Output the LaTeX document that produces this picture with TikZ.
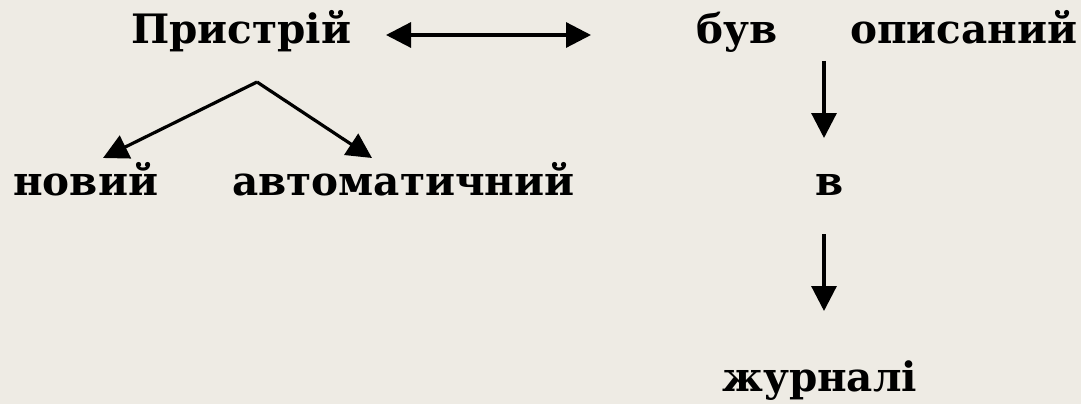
\documentclass[tikz,border=0pt]{standalone}
\usepackage{fontspec}
\setmainfont{DejaVu Serif}
\usetikzlibrary{arrows.meta}
\definecolor{bg}{HTML}{EEEBE4}
\tikzset{
  word/.style={anchor=base west,inner sep=0pt,font=\bfseries\fontsize{40.5}{40.5}\selectfont},
  arr/.style={line width=3.2pt,-{Triangle[length=25pt,width=25pt]}},
  darr/.style={line width=3.2pt,{Triangle[length=25pt,width=25pt]}-{Triangle[length=25pt,width=25pt]}}
}
\begin{document}
\begin{tikzpicture}[x=1pt,y=-1pt]
\fill[bg] (0,0) rectangle (1081,404);
\useasboundingbox (0,0) rectangle (1081,404);
\node[word] (pr) at (131,44) {Пристрій};
\node[word] (buv) at (696,44) {був};
\node[word] (op) at (850,44) {описаний};
\node[word] (nov) at (13,195) {новий};
\node[word] (avt) at (232,195) {автоматичний};
\node[word] (v) at (815,195) {в};
\node[word] (zh) at (722,391) {журналі};
\coordinate (dl) at (386,35);
\coordinate (dr) at (591,35);
\coordinate (apex) at (257,82);
\coordinate (tl) at (103,158);
\coordinate (tr) at (372,158);
\coordinate (a1s) at (824,61);
\coordinate (a1e) at (824,138);
\coordinate (a2s) at (824,234);
\coordinate (a2e) at (824,311);
\draw[darr] (dl) -- (dr);
\draw[arr] (apex) -- (tl);
\draw[arr] (apex) -- (tr);
\draw[arr] (a1s) -- (a1e);
\draw[arr] (a2s) -- (a2e);
\end{tikzpicture}
\end{document}
